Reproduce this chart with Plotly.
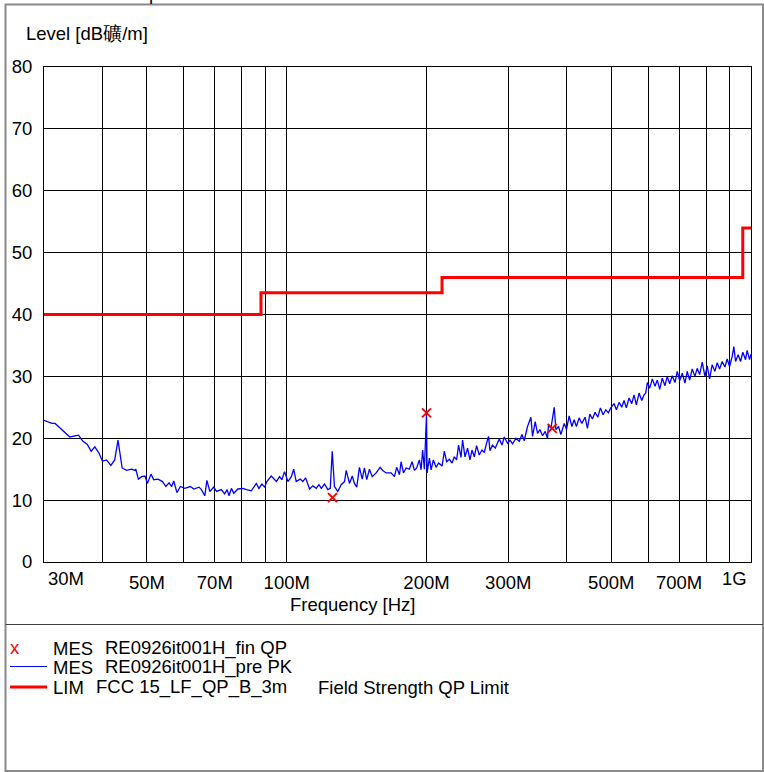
import plotly.graph_objects as go
import math

# ---------------- data ----------------
pk_freq_mhz = [30.0, 31.2, 31.7, 32.7, 34.1, 35.6, 36.4, 37.2, 37.9, 38.6, 39.4, 40.1, 40.9, 41.8, 42.6,
               43.3, 44.2, 45.2, 46.3, 47.1, 47.3, 47.9, 48.7, 49.5, 50.1, 51.0, 51.7, 52.8, 54.0, 54.9,
               55.8, 56.5, 57.1, 58.0, 59.0, 60.3, 62.0, 63.1, 64.7, 65.5, 66.6, 67.3, 68.3, 69.6, 70.6,
               72.3, 73.5, 74.4, 75.1, 76.0, 76.9, 78.5, 80.5, 81.9, 83.9, 86.0, 87.1, 88.4, 89.6, 90.6,
               92.6, 95.0, 96.5, 97.6, 98.9, 100.6,
               102.3, 103.5, 104.8, 106.9, 108.3, 109.8, 112.0, 113.8, 115.8, 117.3, 118.7, 120.6, 122.6,
               124.1, 125.3, 126.7, 128.8, 131.0, 133.2, 134.3, 136.5, 138.4, 139.9, 141.5, 143.4, 145.4,
               147.0, 148.7, 150.7, 152.8, 155.8, 158.9, 161.0, 163.7, 167.8, 170.6, 172.5, 174.9, 176.3,
               178.4, 180.8, 183.7, 186.2, 188.4, 190.5, 193.1, 194.7, 196.2, 197.9, 200.0, 200.6, 202.9,
               204.6, 206.9, 209.7, 212.4, 216.0, 218.5, 221.0, 224.0, 227.0, 229.6, 232.2, 234.5, 237.3,
               239.2, 242.1, 245.2, 248.1, 250.6, 253.5, 256.4, 259.8, 263.3, 266.4, 269.4, 272.1, 274.0,
               277.5, 281.3, 284.5, 286.9, 290.8, 294.1, 299.0, 302.6, 306.5, 311.7, 316.8, 321.1, 324.7,
               330.1,
               335.7, 338.4, 342.9, 346.9, 351.0, 355.6, 360.3, 364.5, 366.3, 370.7, 376.8, 380.0, 384.9,
               389.5, 395.9, 400.4, 405.8, 411.3, 416.0, 420.7, 426.4, 432.1, 439.2, 444.3, 449.6, 455.4,
               461.5, 467.7, 473.8, 480.2, 486.7, 493.0, 498.8, 507.1, 512.9, 519.8, 526.8, 532.8, 538.9,
               546.2, 553.5, 559.9, 566.3, 573.9, 581.6, 588.3, 593.2, 598.0, 605.1, 612.9, 621.2, 628.3,
               635.8, 644.0, 652.7, 660.2, 668.1, 676.7, 685.8, 693.7, 702.0, 711.1, 720.6, 728.9, 737.6,
               747.2, 757.2, 765.9, 775.1, 785.1, 795.7, 804.8, 814.4, 824.9, 836.0, 845.6, 855.7, 866.8,
               878.5, 888.5, 899.1, 910.8, 918.5, 926.3, 938.3, 949.5, 960.3, 973.3, 981.0, 992.7, 1000.0]

pk_level = [22.9, 22.4, 22.4, 21.5, 20.2, 20.5, 19.5, 19.0, 17.9, 18.6, 17.6, 16.3, 16.5, 15.6, 16.5,
            19.7, 15.2, 14.8, 15.0, 14.8, 15.0, 13.4, 13.8, 13.9, 12.7, 14.2, 13.3, 13.4, 13.0, 12.2,
            12.8, 12.2, 13.1, 11.2, 12.2, 11.9, 12.2, 11.8, 12.1, 11.7, 10.7, 13.2, 11.4, 12.1, 11.4,
            11.7, 11.0, 11.7, 10.7, 11.9, 11.1, 11.8, 11.9, 11.7, 11.5, 12.7, 11.9, 12.6, 12.1, 13.0,
            13.9, 13.0, 13.8, 13.3, 14.6, 13.0,
            13.8, 15.0, 13.0, 13.4, 13.0, 13.6, 11.8, 12.3, 11.9, 12.5, 11.9, 12.6, 11.7,
            11.9, 17.9, 12.2, 11.4, 12.5, 13.0, 14.8, 12.7, 13.9, 12.7, 12.1, 15.3, 13.4,
            15.2, 13.3, 15.0, 13.8, 14.4, 15.3, 14.8, 14.4, 14.4, 13.8, 15.3, 14.1, 16.2,
            14.4, 15.2, 15.0, 16.2, 14.8, 15.2, 16.5, 14.9, 18.1, 15.0, 23.8, 14.4, 16.8,
            14.9, 16.5, 15.3, 16.0, 15.5, 17.9, 16.2, 16.6, 16.0, 17.0, 16.5, 18.9, 16.9,
            19.7, 17.0, 18.4, 16.5, 18.1, 17.0, 18.8, 17.3, 18.1, 17.7, 19.2, 20.3, 18.0,
            18.9, 18.4, 19.2, 19.9, 18.9, 20.2, 19.2, 19.7, 19.1, 20.0, 19.5, 20.6, 19.6,
            21.9,
            23.4, 20.3, 22.7, 20.8, 21.4, 20.4, 21.1, 20.0, 22.2, 21.6, 25.0, 21.4, 21.9,
            20.6, 22.4, 21.4, 23.6, 21.9, 23.0, 21.9, 23.3, 22.4, 23.4, 21.6, 23.9, 23.1,
            24.2, 23.4, 24.9, 23.8, 24.6, 24.1, 24.9, 25.6, 24.6, 25.8, 25.0, 26.1, 24.9,
            26.5, 25.6, 27.0, 25.4, 27.3, 26.1, 27.0, 27.3, 29.0, 28.1, 29.6, 28.4, 29.4,
            27.9, 29.7, 28.5, 30.0, 28.8, 30.1, 29.0, 30.8, 29.3, 30.5, 28.9, 30.8, 29.4,
            31.2, 30.0, 31.3, 30.3, 32.3, 30.0, 31.7, 29.6, 31.9, 30.8, 32.2, 31.2, 32.4,
            31.5, 32.8, 31.6, 33.2, 34.8, 32.4, 33.5, 32.4, 33.9, 32.7, 34.2, 32.7, 33.6]

qp_freq_mhz = [125.5, 200.0, 373.0]
qp_level = [10.4, 24.1, 21.6]

limit_freq_mhz = [30, 88, 216, 960, 1000]
limit_level = [40, 43.5, 46, 54, 54]

grid_freq_mhz = [30, 40, 50, 60, 70, 80, 90, 100, 200, 300, 400, 500, 600, 700, 800, 900, 1000]
grid_labels = ["", "", "50M", "", "70M", "", "", "100M", "200M", "300M", "", "500M", "", "700M", "", "", ""]
edge_labels = ["30M", "1G"]

legend_rows = [
    ("MES", "RE0926it001H_fin QP", ""),
    ("MES", "RE0926it001H_pre PK", ""),
    ("LIM", "FCC 15_LF_QP_B_3m", "Field Strength QP Limit"),
]

# ---------------- layout geometry ----------------
W, H = 764, 772
L, R, T, B = 44, 751, 67, 562
FONT = "Liberation Sans, Arial, sans-serif"
FS = 18.5

def px(x):
    return (x - L) / (R - L)

def py(y):
    return (B - y) / (B - T)

fig = go.Figure()

fig.add_trace(go.Scatter(
    x=[f * 1e6 for f in pk_freq_mhz], y=pk_level, mode="lines",
    line=dict(color="#0000ff", width=1.3), showlegend=False, hoverinfo="skip"))

fig.add_trace(go.Scatter(
    x=[f * 1e6 for f in limit_freq_mhz], y=limit_level, mode="lines",
    line=dict(color="#ff0000", width=3, shape="hv"), showlegend=False, hoverinfo="skip"))

fig.add_trace(go.Scatter(
    x=[f * 1e6 for f in qp_freq_mhz], y=qp_level, mode="markers",
    marker=dict(symbol="x-thin", size=9, line=dict(color="#ff0000", width=2)),
    showlegend=False, hoverinfo="skip"))

shapes = []
annotations = []

# outer frame and separator
shapes.append(dict(type="rect", xref="paper", yref="paper",
                   x0=px(5.5), x1=px(763), y0=py(771), y1=py(4.5),
                   line=dict(color="#8a8a8a", width=2), layer="above"))
shapes.append(dict(type="line", xref="paper", yref="paper",
                   x0=px(5.5), x1=px(763), y0=py(624.5), y1=py(624.5),
                   line=dict(color="#404040", width=1)))

def txt(text, x, y, anchor="left", color="black"):
    annotations.append(dict(text=text, xref="paper", yref="paper", x=px(x), y=py(y),
                            xanchor=anchor, yanchor="middle", showarrow=False,
                            font=dict(family=FONT, size=FS, color=color)))

# edge tick labels
txt(edge_labels[0], 46, 578)
txt(edge_labels[1], 749, 578, anchor="right")

# axis titles
txt("Frequency [Hz]", 352, 604, anchor="center")
txt("Level [dB礦/m]", 24, 33)
# clipped fragment at the very top
txt("p", 154, -6, anchor="center")

# legend
row_y = [648, 667, 687]
txt("x", 15, row_y[0] - 1, anchor="center", color="#ff0000")
shapes.append(dict(type="line", xref="paper", yref="paper", x0=px(10), x1=px(47),
                   y0=py(666.5), y1=py(666.5), line=dict(color="#0000ff", width=1)))
shapes.append(dict(type="line", xref="paper", yref="paper", x0=px(10), x1=px(47),
                   y0=py(687), y1=py(687), line=dict(color="#ff0000", width=3)))
for (a, b, c), yy in zip(legend_rows, row_y):
    bx = 102.5 if a == "MES" else 94
    txt(a, 51, yy)
    txt(b, bx, yy)
    if c:
        txt(c, 316, yy)

fig.update_layout(
    width=W, height=H,
    margin=dict(l=L, r=W - R, t=T, b=H - B, pad=0),
    paper_bgcolor="white", plot_bgcolor="white",
    font=dict(family=FONT, size=FS, color="black"),
    shapes=shapes, annotations=annotations, showlegend=False,
    xaxis=dict(type="log", range=[math.log10(30e6), math.log10(1e9)],
               tickmode="array", tickvals=[f * 1e6 for f in grid_freq_mhz], ticktext=grid_labels,
               showgrid=True, gridcolor="black", gridwidth=1,
               showline=True, linecolor="black", linewidth=1, mirror=True,
               ticks="", ticklabelstandoff=4, zeroline=False,
               tickfont=dict(family=FONT, size=FS, color="black")),
    yaxis=dict(range=[0, 80], tickmode="linear", tick0=0, dtick=10,
               showgrid=True, gridcolor="black", gridwidth=1,
               showline=True, linecolor="black", linewidth=1, mirror=True,
               ticks="", ticklabelstandoff=7, zeroline=False,
               tickfont=dict(family=FONT, size=FS, color="black")),
)

fig.write_html("out.html", config={"displayModeBar": False},
               post_script="document.body.style.margin='0';")
